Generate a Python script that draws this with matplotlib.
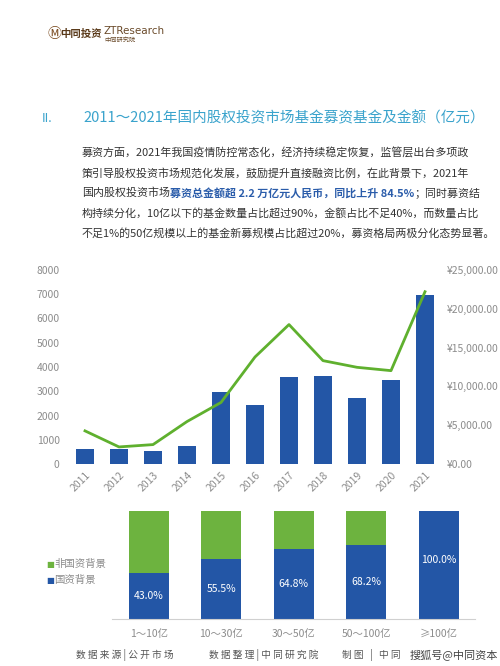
import matplotlib
matplotlib.use("Agg")
import matplotlib.pyplot as plt

plt.rcParams['font.family'] = ['Noto Sans CJK SC', 'DejaVu Sans']

years = ["2011","2012","2013","2014","2015","2016","2017","2018","2019","2020","2021"]
fund_count = [600, 600, 540, 740, 2960, 2440, 3580, 3640, 2710, 3470, 6980]
fund_amount = [4270, 2200, 2500, 5470, 7930, 13790, 17970, 13320, 12460, 12030, 22200]

size_cats = ["1～10亿", "10～30亿", "30～50亿", "50～100亿", "≥100亿"]
state_share = [43.0, 55.5, 64.8, 68.2, 100.0]

BLUE = "#2356A6"
GREEN = "#6DB33F"
GRAY = "#8C8C8C"
TITLE = "#3AA3CC"
FS = 7.9

W, H = 500, 666
fig = plt.figure(figsize=(W/100, H/100), dpi=100)
ov = fig.add_axes([0, 0, 1, 1])
ov.set_xlim(0, W)
ov.set_ylim(H, 0)
ov.axis("off")

def px_axes(x0, y0, x1, y1):
    return fig.add_axes([x0/W, 1-y1/H, (x1-x0)/W, (y1-y0)/H])

def ftext(x, y, s, **kw):
    return ov.text(x, y, s, **kw)

# header logos
ftext(47, 34, "Ⓜ", fontsize=10, color="#7A4A1E", va="center")
ftext(60, 34, "中同投资", fontsize=7.5, color="#5A3A1A", weight="bold", va="center")
ftext(104, 31, "ZTResearch", fontsize=7.5, color="#6A4A2A", va="center", family=["DejaVu Sans"])
ftext(104, 40, "中同研究院", fontsize=4.5, color="#6A4A2A", va="center")

# title
ftext(42, 118, "II.", fontsize=9, color=TITLE, va="center")
ftext(83, 118, "2011～2021年国内股权投资市场基金募资基金及金额（亿元）", fontsize=10.5, color=TITLE, va="center")

# paragraph
lines = [
    "募资方面，2021年我国疫情防控常态化，经济持续稳定恢复，监管层出台多项政",
    "策引导股权投资市场规范化发展，鼓励提升直接融资比例，在此背景下，2021年",
    None,
    "构持续分化，10亿以下的基金数量占比超过90%，金额占比不足40%，而数量占比",
    "不足1%的50亿规模以上的基金新募规模占比超过20%，募资格局两极分化态势显著。",
]
ys = [153, 173, 193, 213, 233]
for s, y in zip(lines, ys):
    if s:
        ftext(82, y, s, fontsize=FS, color="#333333", va="center")
t1 = ftext(82, 193, "国内股权投资市场", fontsize=FS, color="#333333", va="center")
a2 = ov.annotate("募资总金额超 2.2 万亿元人民币，同比上升 84.5%", xy=(1, 0.5), xycoords=t1,
                 va="center", ha="left", fontsize=FS, color="#2A5CAA", weight="bold")
ov.annotate("；同时募资结", xy=(1, 0.5), xycoords=a2, va="center", ha="left",
            fontsize=FS, color="#333333")

# chart 1
ax = px_axes(68, 270, 442, 464)
x = list(range(len(years)))
ax.bar(x, fund_count, width=0.55, color=BLUE, zorder=2)
ax.set_xlim(-0.5, len(years)-0.5)
ax.set_ylim(0, 8000)
ax.set_yticks(range(0, 8001, 1000))
ax.set_xticks(x)
ax.set_xticklabels(years, rotation=45, ha="right", rotation_mode="anchor")
ax2 = ax.twinx()
ax2.plot(x, fund_amount, color="#5FB02E", lw=2, zorder=3)
ax2.set_ylim(0, 25000)
ax2.set_yticks(range(0, 25001, 5000))
ax2.set_yticklabels([f"¥{v:,.2f}" for v in range(0, 25001, 5000)])
for a in (ax, ax2):
    for sp in a.spines.values():
        sp.set_visible(False)
    a.tick_params(length=0, colors=GRAY, labelsize=7.5)
ax.tick_params(axis="y", pad=6)
ax.tick_params(axis="x", pad=4)

# chart 2
bx = px_axes(112, 511, 475, 619)
xi = list(range(len(size_cats)))
other = [100 - v for v in state_share]
bx.bar(xi, state_share, width=0.55, color=BLUE, label="国资背景")
bx.bar(xi, other, bottom=state_share, width=0.55, color=GREEN, label="非国资背景")
for i, v in enumerate(state_share):
    yl = v/2 if v < 99 else 55
    bx.text(i, yl, f"{v:.1f}%", ha="center", va="center", color="white", fontsize=7.5)
bx.set_xlim(-0.51, 4.5)
bx.set_ylim(0, 100)
bx.set_yticks([])
bx.set_xticks(xi)
bx.set_xticklabels(size_cats)
bx.tick_params(length=0, colors=GRAY, labelsize=7.5, pad=7)
for k, sp in bx.spines.items():
    sp.set_visible(k == "bottom")
bx.spines["bottom"].set_color("#D0D0D0")

ftext(46, 564, "■", fontsize=6, color=GREEN, va="center", family=["DejaVu Sans"])
ftext(54, 564, "非国资背景", fontsize=7.5, color=GRAY, va="center")
ftext(46, 580, "■", fontsize=6, color=BLUE, va="center", family=["DejaVu Sans"])
ftext(54, 580, "国资背景", fontsize=7.5, color=GRAY, va="center")

# footer
ftext(76, 655, "数 据 来 源 | 公 开 市 场", fontsize=7, color="#555555", va="center")
ftext(209, 655, "数 据 整 理 | 中 同 研 究 院", fontsize=7, color="#555555", va="center")
ftext(342, 655, "制 图   |   中 同", fontsize=7, color="#555555", va="center")
ftext(410, 655, "搜狐号@中同资本", fontsize=8, color="#444444", va="center")

fig.savefig("out.png", dpi=100, facecolor="white")
